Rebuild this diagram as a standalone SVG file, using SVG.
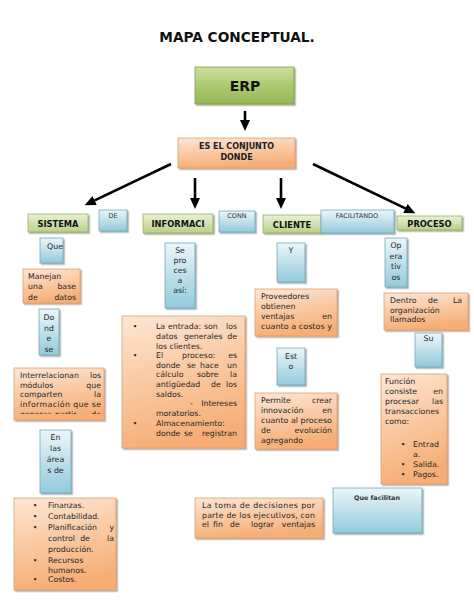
<svg xmlns="http://www.w3.org/2000/svg" width="474" height="613" viewBox="0 0 474 613">
<style>
text{font-family:"DejaVu Sans","Liberation Sans",sans-serif}
.t{font-size:7.8px;fill:#262626}
.e{text-anchor:end}
.m{text-anchor:middle}
.lb{font-weight:bold;font-size:8.3px;fill:#111;text-anchor:middle}
.sm{font-size:6.5px;fill:#333;text-anchor:middle}
.o{fill:url(#gO);stroke:#e59f68;stroke-width:0.8;filter:url(#sh)}
.b{fill:url(#gB);stroke:#72aabd;stroke-width:0.8;filter:url(#sh)}
.g{fill:url(#gG);stroke:#98b25c;stroke-width:0.8;filter:url(#sh)}
.arr{stroke:#000;stroke-width:2.6;fill:none;marker-end:url(#ah)}
</style>
<defs>
<linearGradient id="gO" x1="0" y1="0" x2="0.25" y2="1"><stop offset="0" stop-color="#fde6d4"/><stop offset="1" stop-color="#f6ae76"/></linearGradient>
<linearGradient id="gB" x1="0" y1="0" x2="0" y2="1"><stop offset="0" stop-color="#ebf6fa"/><stop offset="1" stop-color="#93cadb"/></linearGradient>
<linearGradient id="gG" x1="0" y1="0" x2="0" y2="1"><stop offset="0" stop-color="#e9f1d5"/><stop offset="1" stop-color="#b9d088"/></linearGradient>
<linearGradient id="gE" x1="0" y1="0" x2="0" y2="1"><stop offset="0" stop-color="#cde0a0"/><stop offset="0.5" stop-color="#abc970"/><stop offset="1" stop-color="#96b855"/></linearGradient>
<filter id="sh" x="-10%" y="-10%" width="130%" height="130%"><feDropShadow dx="1.5" dy="1.5" stdDeviation="0.7" flood-color="#7a7a7a" flood-opacity="0.6"/></filter>
<marker id="ah" markerUnits="userSpaceOnUse" markerWidth="12" markerHeight="11" refX="4" refY="5" orient="auto"><path d="M0,0 L11,5 L0,10 z" fill="#000"/></marker>
<clipPath id="cpMan"><rect x="23" y="269" width="57" height="32"/></clipPath>
<clipPath id="cpInt"><rect x="14" y="368" width="90" height="46"/></clipPath>
</defs>

<text x="237" y="42" class="m" style="font-weight:bold;font-size:13.7px;fill:#111">MAPA CONCEPTUAL.</text>

<g id="connectors">
<line class="arr" x1="245" y1="111" x2="245" y2="124"/>
<line class="arr" x1="171" y1="164" x2="91" y2="202.2"/>
<line class="arr" x1="195" y1="178" x2="195" y2="202"/>
<line class="arr" x1="281" y1="178" x2="281" y2="202"/>
<line class="arr" x1="313" y1="164" x2="409" y2="210.2"/>
</g>

<g id="erp">
<rect x="195" y="67" width="99" height="37" fill="url(#gE)" stroke="#7f9e42" stroke-width="0.8" filter="url(#sh)"/>
<text x="245" y="91" class="m" style="font-weight:bold;font-size:14px;fill:#111">ERP</text>
</g>

<g id="conjunto">
<rect x="178" y="138" width="117" height="30" class="o"/>
<text x="236.5" y="149" class="m" style="font-weight:bold;font-size:8px;fill:#222">ES EL CONJUNTO</text>
<text x="236.5" y="160" class="m" style="font-weight:bold;font-size:8px;fill:#222">DONDE</text>
</g>

<g id="sistema"><rect x="28" y="214" width="60" height="18" class="g"/><text x="58" y="226.5" class="lb">SISTEMA</text></g>
<g id="de"><rect x="99" y="210" width="28" height="21" class="b"/><text x="113" y="217.5" class="sm">DE</text></g>
<g id="informaci"><rect x="143" y="214" width="70" height="19" class="g"/><text x="178" y="227" class="lb">INFORMACI</text></g>
<g id="conn"><rect x="219" y="211" width="36" height="21" class="b"/><text x="237" y="218" class="sm">CONN</text></g>
<g id="cliente"><rect x="263" y="215" width="58" height="18" class="g"/><text x="292" y="227.5" class="lb">CLIENTE</text></g>
<g id="facilitando"><rect x="321" y="210" width="73" height="23" class="b"/><text x="357" y="217.5" class="sm">FACILITANDO</text></g>
<g id="proceso"><rect x="397" y="216" width="65" height="14" class="g"/><text x="429.5" y="226.5" class="lb">PROCESO</text></g>

<g id="que"><rect x="40" y="238" width="23" height="25" class="b"/><text x="55" y="249" class="t m">Que</text></g>

<g id="manejan">
<rect x="23" y="269" width="57" height="34" class="o"/>
<g clip-path="url(#cpMan)">
<text x="28" y="279" class="t">Manejan</text>
<text x="28" y="289" class="t">una</text><text x="76" y="289" class="t e">base</text>
<text x="28" y="299.5" class="t">de</text><text x="76" y="299.5" class="t e">datos</text>
</g>
</g>

<g id="donde">
<rect x="39" y="309" width="20" height="46" class="b"/>
<text x="49" y="320" class="t m">Do</text>
<text x="49" y="330.5" class="t m">nd</text>
<text x="49" y="341" class="t m">e</text>
<text x="49" y="351.5" class="t m">se</text>
</g>

<g id="interrelacionan">
<rect x="14" y="368" width="90" height="52" class="o"/>
<g clip-path="url(#cpInt)">
<text x="20" y="378" class="t">Interrelacionan</text><text x="101" y="378" class="t e">los</text>
<text x="20" y="388" class="t">módulos</text><text x="101" y="388" class="t e">que</text>
<text x="20" y="397" class="t">comparten</text><text x="101" y="397" class="t e">la</text>
<text x="20" y="406.5" class="t" textLength="81" lengthAdjust="spacing">información que se</text>
<text x="20" y="417" class="t">genera</text><text x="47" y="417" class="t">a</text><text x="55" y="417" class="t">partir</text><text x="101" y="417" class="t e">de</text>
</g>
</g>

<g id="areas">
<rect x="40" y="430" width="31" height="63" class="b"/>
<text x="55.5" y="440" class="t m">En</text>
<text x="55.5" y="451" class="t m">las</text>
<text x="55.5" y="462" class="t m">área</text>
<text x="55.5" y="473" class="t m">s de</text>
</g>

<g id="finanzas">
<rect x="14" y="498" width="102" height="92" class="o"/>
<text x="35" y="508" class="t m">•</text><text x="48" y="508" class="t">Finanzas.</text>
<text x="35" y="519" class="t m">•</text><text x="48" y="519" class="t">Contabilidad.</text>
<text x="35" y="530" class="t m">•</text><text x="48" y="530" class="t">Planificación</text><text x="114" y="530" class="t e">y</text>
<text x="48" y="541" class="t">control</text><text x="85" y="541" class="t m">de</text><text x="114" y="541" class="t e">la</text>
<text x="48" y="551.5" class="t">producción.</text>
<text x="35" y="563" class="t m">•</text><text x="48" y="563" class="t">Recursos</text>
<text x="48" y="573" class="t">humanos.</text>
<text x="35" y="582" class="t m">•</text><text x="48" y="582" class="t">Costos.</text>
</g>

<g id="seprocesa">
<rect x="165" y="243" width="30" height="65" class="b"/>
<text x="180" y="253" class="t m">Se</text>
<text x="180" y="263" class="t m">pro</text>
<text x="180" y="273" class="t m">ces</text>
<text x="180" y="283" class="t m">a</text>
<text x="180" y="293" class="t m">así:</text>
</g>

<g id="entrada">
<rect x="122" y="316" width="123" height="132" class="o"/>
<text x="135" y="329" class="t m">•</text>
<text x="156" y="329" class="t">La</text><text x="168" y="329" class="t">entrada:</text><text x="204" y="329" class="t">son</text><text x="237" y="329" class="t e">los</text>
<text x="156" y="339" class="t">datos</text><text x="184" y="339" class="t">generales</text><text x="237" y="339" class="t e">de</text>
<text x="156" y="348.5" class="t">los clientes.</text>
<text x="135" y="358" class="t m">•</text>
<text x="156" y="358" class="t">El</text><text x="182" y="358" class="t">proceso:</text><text x="237" y="358" class="t e">es</text>
<text x="156" y="367.5" class="t">donde</text><text x="187" y="367.5" class="t">se</text><text x="200" y="367.5" class="t">hace</text><text x="237" y="367.5" class="t e">un</text>
<text x="156" y="377" class="t">cálculo</text><text x="197" y="377" class="t">sobre</text><text x="237" y="377" class="t e">la</text>
<text x="156" y="387" class="t">antigüedad</text><text x="211" y="387" class="t">de</text><text x="237" y="387" class="t e">los</text>
<text x="156" y="396.5" class="t">saldos.</text>
<text x="190" y="406" class="t">-</text><text x="237" y="406" class="t e">Intereses</text>
<text x="156" y="416" class="t">moratorios.</text>
<text x="135" y="425.5" class="t m">•</text>
<text x="156" y="425.5" class="t">Almacenamiento:</text>
<text x="156" y="435.5" class="t">donde</text><text x="184" y="435.5" class="t">se</text><text x="237" y="435.5" class="t e">registran</text>
</g>

<g id="y"><rect x="277" y="243" width="28" height="39" class="b"/><text x="291" y="252.5" class="t m">Y</text></g>

<g id="proveedores">
<rect x="255" y="289" width="82" height="47" class="o"/>
<text x="261" y="298.5" class="t">Proveedores</text>
<text x="261" y="308.5" class="t">obtienen</text>
<text x="261" y="318.5" class="t">ventajas</text><text x="332" y="318.5" class="t e">en</text>
<text x="261" y="328.5" class="t" textLength="71" lengthAdjust="spacingAndGlyphs">cuanto a costos y</text>
</g>

<g id="esto"><rect x="277" y="348" width="28" height="37" class="b"/><text x="291" y="358.5" class="t m">Est</text><text x="291" y="369" class="t m">o</text></g>

<g id="permite">
<rect x="255" y="393" width="82" height="56" class="o"/>
<text x="261" y="402.5" class="t">Permite</text><text x="332" y="402.5" class="t e">crear</text>
<text x="261" y="412.5" class="t">innovación</text><text x="332" y="412.5" class="t e">en</text>
<text x="261" y="422.5" class="t" textLength="71" lengthAdjust="spacingAndGlyphs">cuanto al proceso</text>
<text x="261" y="432.5" class="t">de</text><text x="332" y="432.5" class="t e">evolución</text>
<text x="261" y="442.5" class="t">agregando</text>
</g>

<g id="latoma">
<rect x="195" y="498" width="128" height="40" class="o"/>
<text x="202" y="508" class="t" textLength="113" lengthAdjust="spacing">La toma de decisiones por</text>
<text x="202" y="517.5" class="t" textLength="113" lengthAdjust="spacing">parte de los ejecutivos, con</text>
<text x="202" y="527" class="t">el</text><text x="213" y="527" class="t">fin</text><text x="230" y="527" class="t">de</text><text x="251" y="527" class="t">lograr</text><text x="315" y="527" class="t e">ventajas</text>
</g>

<g id="quefacilitan"><rect x="333" y="488" width="89" height="45" class="b"/><text x="377" y="500" class="m" style="font-weight:bold;font-size:6.4px;fill:#333">Que facilitan</text></g>

<g id="operativos">
<rect x="385" y="238" width="22" height="49" class="b"/>
<text x="396" y="248" class="t m">Op</text>
<text x="396" y="258.5" class="t m">era</text>
<text x="396" y="269" class="t m">tiv</text>
<text x="396" y="279.5" class="t m">os</text>
</g>

<g id="dentro">
<rect x="384" y="293" width="84" height="37" class="o"/>
<text x="390" y="303" class="t">Dentro</text><text x="428" y="303" class="t">de</text><text x="462" y="303" class="t e">La</text>
<text x="390" y="312.5" class="t">organización</text>
<text x="390" y="322" class="t">llamados</text>
</g>

<g id="su"><rect x="415" y="333" width="27" height="34" class="b"/><text x="428.5" y="341" class="t m">Su</text></g>

<g id="funcion">
<rect x="381" y="374" width="66" height="110" class="o"/>
<text x="385" y="383.5" class="t">Función</text>
<text x="385" y="393.5" class="t">consiste</text><text x="443" y="393.5" class="t e">en</text>
<text x="385" y="403.5" class="t">procesar</text><text x="443" y="403.5" class="t e">las</text>
<text x="385" y="413.5" class="t">transacciones</text>
<text x="385" y="423.5" class="t">como:</text>
<text x="403" y="446.5" class="t m">•</text><text x="413" y="446.5" class="t">Entrad</text>
<text x="413" y="456.5" class="t">a.</text>
<text x="403" y="466.5" class="t m">•</text><text x="413" y="466.5" class="t">Salida.</text>
<text x="403" y="476.5" class="t m">•</text><text x="413" y="476.5" class="t">Pagos.</text>
</g>
</svg>
